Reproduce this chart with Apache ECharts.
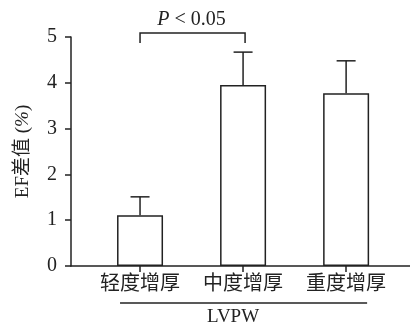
<!DOCTYPE html>
<html>
<head>
<meta charset="utf-8">
<script src="https://cdn.jsdelivr.net/npm/echarts@6/dist/echarts.min.js"></script>
<style>
  html, body { margin: 0; padding: 0; background: #fff; }
  #chart { width: 410px; height: 328px; }
</style>
</head>
<body>
<div id="chart"></div>
<script>
// 分组与数据
const categories = ["轻度增厚", "中度增厚", "重度增厚"];
const groupPos = [1, 2, 3];
const means = [1.11, 3.95, 3.77];
const errTops = [1.51, 4.67, 4.48];
const yTicks = [0, 1, 2, 3, 4, 5];
const sigPair = [1, 2];
const sigLevel = 5.09;
const groupName = "LVPW";

const FONT = "'Liberation Serif', 'Noto Sans CJK SC', serif";
const INK = "#222";

const chart = echarts.init(document.getElementById("chart"));

/**
 * 误差线（仅向上）
 */
const renderError = (params, api) => {
  const x = api.value(0);
  const base = api.coord([x, api.value(1)]);
  const top = api.coord([x, api.value(2)]);
  const half = 9.5;
  const style = { stroke: INK, lineWidth: 1.5 };
  return {
    type: "group",
    children: [
      { type: "line", shape: { x1: base[0], y1: base[1], x2: top[0], y2: top[1] }, style },
      { type: "line", shape: { x1: top[0] - half, y1: top[1], x2: top[0] + half, y2: top[1] }, style },
    ],
  };
};

/**
 * 显著性标记
 */
const renderSig = (params, api) => {
  const a = api.coord([api.value(0), api.value(2)]);
  const b = api.coord([api.value(1), api.value(2)]);
  const drop = 10;
  const style = { stroke: INK, lineWidth: 1.5, fill: null };
  return {
    type: "group",
    children: [
      {
        type: "polyline",
        shape: { points: [[a[0], a[1] + drop], [a[0], a[1]], [b[0] + 2, b[1]], [b[0] + 2, b[1] + drop]] },
        style,
      },
      {
        type: "text",
        style: {
          x: (a[0] + b[0]) / 2,
          y: a[1] - 3,
          align: "center",
          verticalAlign: "bottom",
          text: "{i|P}{n| < 0.05}",
          rich: {
            i: { fontFamily: FONT, fontSize: 20, fontStyle: "italic", fill: INK },
            n: { fontFamily: FONT, fontSize: 20, fill: INK },
          },
        },
      },
    ],
  };
};

/**
 * 分组线和组名
 */
const renderGroup = (params, api) => {
  const first = api.coord([groupPos[0], 0]);
  const last = api.coord([groupPos[groupPos.length - 1], 0]);
  const y = first[1] + 37;
  return {
    type: "group",
    children: [
      { type: "line", shape: { x1: first[0] - 20, y1: y, x2: last[0] + 21, y2: y }, style: { stroke: INK, lineWidth: 1.5 } },
      {
        type: "text",
        style: {
          x: (first[0] + last[0]) / 2 - 10,
          y: y + 5,
          align: "center",
          verticalAlign: "top",
          text: groupName,
          fontFamily: FONT,
          fontSize: 19,
          fill: INK,
        },
      },
    ],
  };
};

const option = {
  animation: false,
  grid: { left: 71, right: 0, top: 37, bottom: 62 },
  xAxis: {
    type: "value",
    min: 0.33,
    max: 3.62,
    splitLine: { show: false },
    axisLine: { show: true, lineStyle: { color: INK, width: 1.5 } },
    axisTick: { show: true, length: 6, customValues: groupPos, lineStyle: { color: INK, width: 1.5 } },
    axisLabel: {
      customValues: groupPos,
      margin: 9,
      fontFamily: FONT,
      fontSize: 20,
      color: INK,
      formatter: (v) => categories[groupPos.indexOf(Math.round(v))] || "",
    },
  },
  yAxis: {
    type: "value",
    min: yTicks[0],
    max: yTicks[yTicks.length - 1],
    interval: 1,
    splitLine: { show: false },
    axisLine: { show: true, lineStyle: { color: INK, width: 1.5 } },
    axisTick: { show: true, length: 6, lineStyle: { color: INK, width: 1.5 } },
    axisLabel: { margin: 14, fontFamily: FONT, fontSize: 20, color: INK },
    name: "{a|EF差值 (}{i|%}{a|)}",
    nameLocation: "middle",
    nameGap: 38,
    nameRotate: 90,
    nameTextStyle: {
      fontFamily: FONT,
      fontSize: 19,
      color: INK,
      rich: {
        a: { fontFamily: FONT, fontSize: 19, color: INK },
        i: { fontFamily: FONT, fontSize: 19, fontStyle: "italic", color: INK },
      },
    },
  },
  series: [
    {
      type: "bar",
      barWidth: 46,
      data: groupPos.map((x, i) => [x, means[i]]),
      itemStyle: { color: "#fff", borderColor: INK, borderWidth: 1.5 },
      z: 2,
    },
    {
      type: "custom",
      renderItem: renderError,
      data: groupPos.map((x, i) => [x, means[i], errTops[i]]),
      clip: false,
      z: 3,
    },
    {
      type: "custom",
      renderItem: renderSig,
      data: [[sigPair[0], sigPair[1], sigLevel]],
      clip: false,
      z: 3,
    },
    {
      type: "custom",
      renderItem: renderGroup,
      data: [[0]],
      clip: false,
      z: 3,
    },
  ],
};

chart.setOption(option);
</script>
</body>
</html>
